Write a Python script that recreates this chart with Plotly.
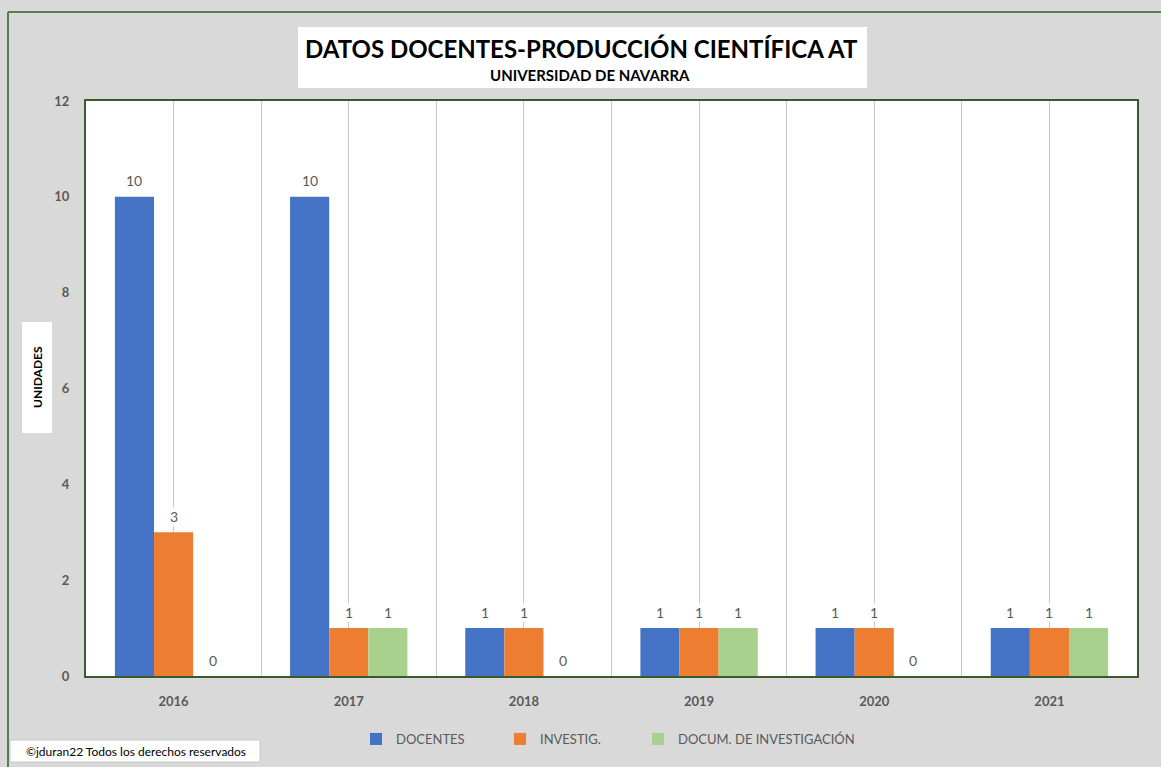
import plotly.graph_objects as go

# Years and series values
years = ["2016", "2017", "2018", "2019", "2020", "2021"]
docentes = [10, 10, 1, 1, 1, 1]
investig = [3, 1, 1, 1, 1, 1]
documentos = [0, 1, 0, 1, 0, 1]
y_ticks = [0, 2, 4, 6, 8, 10, 12]

series = [
    ("DOCENTES", docentes, "#4472c4"),
    ("INVESTIG.", investig, "#ed7d31"),
    ("DOCUM. DE INVESTIGACIÓN", documentos, "#a9d18e"),
]

FONT = "Lato"
BARGAP = 0.33
x_pos = list(range(len(years)))
bar_w = (1 - BARGAP) / len(series)

W, H = 1161, 767
L, R, T, B = 86, 24, 101, 91
pw, ph = W - L - R, H - T - B


def px(x):
    return (x - L) / pw


def py(y):
    return (H - B - y) / ph


# each series gets its own legend box so the entries can be spaced freely
legend_names = ["legend", "legend2", "legend3"]
legend_x = [356, 500, 638]

fig = go.Figure()
annotations = []
for j, (name, vals, color) in enumerate(series):
    fig.add_trace(go.Bar(
        x=x_pos, y=vals, name=name, legend=legend_names[j],
        marker=dict(color=color, line=dict(width=0)),
    ))
    offset = (j - (len(series) - 1) / 2) * bar_w
    for xi, v in zip(x_pos, vals):
        annotations.append(dict(
            x=xi + offset, y=v, xref="x", yref="y", text=str(v), showarrow=False,
            xanchor="center", yanchor="middle", yshift=16,
            bgcolor="white", borderpad=0,
            font=dict(family=FONT, size=14, color="#595959"),
        ))

green = "#3a5a2c"
shapes = [
    # outer frame (top and left edges)
    dict(type="line", xref="paper", yref="paper", x0=px(8), x1=px(1170), y0=py(12), y1=py(12),
         line=dict(color="#5a7d4e", width=2)),
    dict(type="line", xref="paper", yref="paper", x0=px(8), x1=px(8), y0=py(12), y1=py(775),
         line=dict(color="#5a7d4e", width=2)),
    # title box
    dict(type="rect", xref="paper", yref="paper", x0=px(298), x1=px(867), y0=py(88), y1=py(27),
         fillcolor="white", line=dict(width=0), layer="below"),
    # y-axis title box
    dict(type="rect", xref="paper", yref="paper", x0=px(22), x1=px(52), y0=py(433), y1=py(322),
         fillcolor="white", line=dict(width=0), layer="below"),
    # copyright box
    dict(type="rect", xref="paper", yref="paper", x0=px(10), x1=px(260), y0=py(762), y1=py(740),
         fillcolor="white", line=dict(color="#c8c8c8", width=1), layer="below"),
]

annotations += [
    dict(text="<b>DATOS DOCENTES-PRODUCCIÓN CIENTÍFICA AT</b>", xref="paper", yref="paper",
         x=px(581), y=py(48), xanchor="center", yanchor="middle", showarrow=False,
         font=dict(family=FONT, size=24, color="black")),
    dict(text="<b>UNIVERSIDAD DE NAVARRA</b>", xref="paper", yref="paper",
         x=px(590), y=py(75), xanchor="center", yanchor="middle", showarrow=False,
         font=dict(family=FONT, size=15, color="black")),
    dict(text="<b>UNIDADES</b>", xref="paper", yref="paper", textangle=-90,
         x=px(37), y=py(377), xanchor="center", yanchor="middle", showarrow=False,
         font=dict(family=FONT, size=12, color="black")),
    dict(text="©jduran22 Todos los derechos reservados", xref="paper", yref="paper",
         x=px(24), y=py(751), xanchor="left", yanchor="middle", showarrow=False,
         font=dict(family=FONT, size=12, color="black")),
]

legend_style = dict(orientation="h", yanchor="middle", xanchor="left",
                    font=dict(family=FONT, size=13, color="#595959"),
                    bgcolor="rgba(0,0,0,0)", itemwidth=30)

fig.update_layout(
    width=W, height=H,
    margin=dict(l=L, r=R, t=T, b=B),
    paper_bgcolor="#d9d9d9", plot_bgcolor="white",
    barmode="group", bargap=BARGAP, bargroupgap=0,
    font=dict(family=FONT),
    shapes=shapes, annotations=annotations,
    showlegend=True,
    legend=dict(x=px(legend_x[0]), y=py(739), **legend_style),
    legend2=dict(x=px(legend_x[1]), y=py(739), **legend_style),
    legend3=dict(x=px(legend_x[2]), y=py(739), **legend_style),
    xaxis=dict(
        range=[-0.5, len(years) - 0.5], tickmode="array", tickvals=x_pos, ticktext=years,
        showgrid=True, gridcolor="#c9c9c9", gridwidth=1,
        minor=dict(tickmode="array", tickvals=[i + 0.5 for i in range(len(years) - 1)],
                   showgrid=True, gridcolor="#c9c9c9", gridwidth=1),
        showline=True, linecolor=green, linewidth=2, mirror=True,
        ticks="", ticklabelstandoff=12, zeroline=False,
        tickfont=dict(family=FONT, size=13, color="#595959", weight="bold"),
    ),
    yaxis=dict(
        range=[0, 12], tickmode="array", tickvals=y_ticks,
        showgrid=False, zeroline=False,
        showline=True, linecolor=green, linewidth=2, mirror=True,
        ticks="", ticklabelstandoff=12,
        tickfont=dict(family=FONT, size=13, color="#595959", weight="bold"),
    ),
)

fig.write_html("out.html")
